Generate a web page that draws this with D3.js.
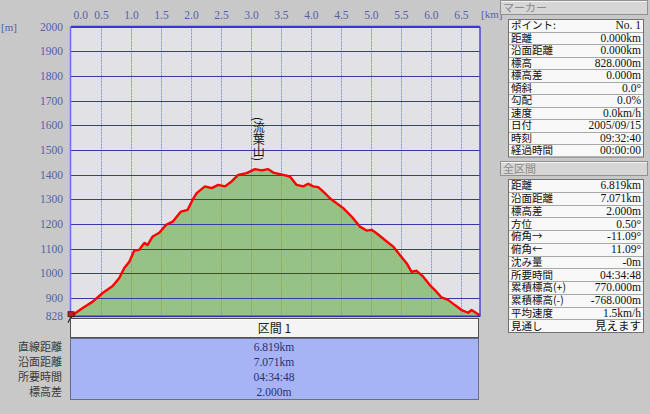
<!DOCTYPE html>
<html><head><meta charset="utf-8">
<script src="https://cdn.jsdelivr.net/npm/d3@7"></script>
<style>
html,body{margin:0;padding:0;background:#c8c8c8;}
svg{display:block;}
</style></head>
<body>
<svg id="c" width="650" height="414"></svg>
<script>
// ---- data ----
const distKm = [0.000,0.028,0.195,0.362,0.528,0.695,0.805,0.888,0.972,1.055,1.138,1.222,1.278,1.362,1.472,1.583,1.695,1.833,1.945,2.028,2.095,2.233,2.345,2.455,2.567,2.678,2.788,2.928,3.067,3.178,3.288,3.372,3.538,3.650,3.762,3.872,3.955,4.038,4.122,4.233,4.317,4.428,4.538,4.678,4.817,4.928,5.012,5.095,5.233,5.372,5.483,5.595,5.678,5.762,5.872,5.983,6.067,6.178,6.288,6.400,6.512,6.622,6.678,6.762,6.819];
const elevM  = [828,831,859,885,920,948,981,1021,1047,1092,1095,1123,1115,1149,1164,1196,1209,1250,1257,1298,1325,1352,1345,1358,1352,1372,1399,1406,1422,1417,1422,1408,1399,1392,1358,1352,1363,1352,1349,1325,1304,1284,1264,1230,1189,1173,1176,1162,1135,1108,1074,1041,1006,1010,986,952,932,902,892,871,851,840,851,838,830];
const xTicks = [0.0,0.5,1.0,1.5,2.0,2.5,3.0,3.5,4.0,4.5,5.0,5.5,6.0,6.5];
const yTicks = [900,1000,1100,1200,1300,1400,1500,1600,1700,1800,1900,2000];
const yMin = 828, yMax = 2000, xMax = 6.819;
const peakName = "(流葉山)";
const peakKm = 3.13;

const markerTitle = "マーカー";
const markerLabels = ["ポイント:","距離","沿面距離","標高","標高差","傾斜","勾配","速度","日付","時刻","経過時間"];
const markerValues = ["No. 1","0.000km","0.000km","828.000m","0.000m","0.0°","0.0%","0.0km/h","2005/09/15","09:32:40","00:00:00"];
const allTitle = "全区間";
const sectionLabels = ["距離","沿面距離","標高差","方位","俯角→","俯角←","沈み量","所要時間","累積標高(+)","累積標高(-)","平均速度","見通し"];
const sectionValues = ["6.819km","7.071km","2.000m","0.50°","-11.09°","11.09°","-0m","04:34:48","770.000m","-768.000m","1.5km/h","見えます"];
const bottomLabels = ["直線距離","沿面距離","所要時間","標高差"];
const bottomValues = ["6.819km","7.071km","04:34:48","2.000m"];
const sectionTitle = "区間 1";

// ---- layout ----
const svg = d3.select("#c");
const L = 71, R = 480, T = 26.5, B = 315.7;
const x = d3.scaleLinear().domain([0, xMax]).range([L, R]);
const y = d3.scaleLinear().domain([yMin, yMax]).range([B, T]);
const numFont = "'Liberation Serif','Noto Sans CJK JP',serif";
const jpFont = "'Noto Sans CJK JP',sans-serif";

// plot background
svg.append("rect").attr("x", L).attr("y", T).attr("width", R - L).attr("height", B - T).attr("fill", "#e2e2e6");

// area
const pts = distKm.map((d, i) => [d, elevM[i]]);
svg.append("path").datum(pts)
  .attr("d", d3.area().x(d => x(d[0])).y0(y(yMin)).y1(d => y(d[1])))
  .attr("fill", "#97c285");

// vertical gridlines
svg.append("g").selectAll("line").data(xTicks.filter(d => d > 0)).join("line")
  .attr("x1", d => Math.round(x(d)) + 0.5).attr("x2", d => Math.round(x(d)) + 0.5)
  .attr("y1", T).attr("y2", B)
  .attr("stroke", "#8a90d0").attr("stroke-width", 1).attr("stroke-dasharray", "2,1");

// horizontal gridlines
svg.append("g").selectAll("line").data(yTicks).join("line")
  .attr("x1", L).attr("x2", R)
  .attr("y1", d => Math.round(y(d)) + 0.5).attr("y2", d => Math.round(y(d)) + 0.5)
  .attr("stroke", "#3a3aa6").attr("stroke-width", 1);

// profile line
svg.append("path").datum(pts)
  .attr("d", d3.line().x(d => x(d[0])).y(d => y(d[1])))
  .attr("fill", "none").attr("stroke", "#ff0000").attr("stroke-width", 2.4)
  .attr("stroke-linejoin", "round");

// frame
svg.append("line").attr("x1", L - 0.5).attr("x2", L - 0.5).attr("y1", T).attr("y2", B + 1)
  .attr("stroke", "#6a6aff").attr("stroke-width", 1.5);
svg.append("line").attr("x1", L).attr("x2", R).attr("y1", T).attr("y2", T)
  .attr("stroke", "#3a3ad0").attr("stroke-width", 1.5);
svg.append("line").attr("x1", R).attr("x2", R).attr("y1", T).attr("y2", B + 1)
  .attr("stroke", "#4a4ad0").attr("stroke-width", 1.5);
svg.append("line").attr("x1", L).attr("x2", R).attr("y1", B + 0.5).attr("y2", B + 0.5)
  .attr("stroke", "#30309a").attr("stroke-width", 1.5);

// top axis labels
const topAxis = d3.axisTop(x).tickValues(xTicks).tickSize(0).tickPadding(0).tickFormat(d3.format(".1f"));
const gTop = svg.append("g").attr("transform", `translate(0,${T - 8})`).call(topAxis);
gTop.select(".domain").remove();
gTop.selectAll("text").attr("fill", "#5460a8").attr("font-family", numFont).attr("font-size", 11.5);
gTop.selectAll(".tick").filter(d => d === 0).select("text").attr("text-anchor", "start").attr("dx", 2);
svg.append("text").attr("x", 481).attr("y", 18).text("[km]")
  .attr("fill", "#5460a8").attr("font-family", numFont).attr("font-size", 11);

// left axis labels
const leftAxis = d3.axisLeft(y).tickValues(yTicks.concat([yMin])).tickSize(0).tickPadding(0).tickFormat(d3.format("d"));
const gLeft = svg.append("g").attr("transform", `translate(${L - 8},0)`).call(leftAxis);
gLeft.select(".domain").remove();
gLeft.selectAll("text").attr("fill", "#5460a8").attr("font-family", numFont).attr("font-size", 11.5);
svg.append("text").attr("x", 1).attr("y", 31).text("[m]")
  .attr("fill", "#5460a8").attr("font-family", numFont).attr("font-size", 11);

// start marker
svg.append("rect").attr("x", x(0) - 3).attr("y", y(yMin) - 4).attr("width", 6).attr("height", 5).attr("fill", "#c02020").attr("stroke", "#401010").attr("stroke-width", 0.8);
svg.append("path").attr("d", `M${x(0)-3},${y(yMin)+7} L${x(0)},${y(yMin)+1} L${x(0)+3},${y(yMin)+7}`)
  .attr("fill", "none").attr("stroke", "#303030").attr("stroke-width", 1.2);

// peak label (vertical)
svg.append("text").attr("x", x(peakKm)).attr("y", 117).text(peakName)
  .attr("font-family", jpFont).attr("font-size", 12).attr("fill", "#111")
  .style("writing-mode", "vertical-rl").attr("text-anchor", "start");

// ---- bottom section table ----
const tb = svg.append("g");
tb.append("rect").attr("x", 70.5).attr("y", 318.5).attr("width", 408).attr("height", 19)
  .attr("fill", "#f4f4f4").attr("stroke", "#505050");
tb.append("line").attr("x1", 71).attr("x2", 478).attr("y1", 319.5).attr("y2", 319.5).attr("stroke", "#fff");
tb.append("text").attr("x", (70 + 479) / 2).attr("y", 333).text(sectionTitle)
  .attr("text-anchor", "middle").attr("font-family", jpFont).attr("font-size", 12).attr("fill", "#202020");
tb.append("rect").attr("x", 70.5).attr("y", 338.5).attr("width", 408).attr("height", 61)
  .attr("fill", "#a6b4f6").attr("stroke", "#6a6a8a");
const by = d3.scalePoint().domain(d3.range(bottomLabels.length)).range([347, 392]);
tb.selectAll("text.bl").data(bottomLabels).join("text").attr("class", "bl")
  .attr("x", 62).attr("y", (d, i) => by(i) + 4).text(d => d)
  .attr("text-anchor", "end").attr("font-family", jpFont).attr("font-size", 11).attr("fill", "#3a3a3a");
tb.selectAll("text.bv").data(bottomValues).join("text").attr("class", "bv")
  .attr("x", 274).attr("y", (d, i) => by(i) + 4).text(d => d)
  .attr("text-anchor", "middle").attr("font-family", numFont).attr("font-size", 11.5).attr("fill", "#2a3070");

// ---- right panel ----
function header(title, top) {
  const g = svg.append("g");
  g.append("rect").attr("x", 500.5).attr("y", top + 0.5).attr("width", 147).attr("height", 14)
    .attr("fill", "#d6d6d6").attr("stroke", "#909090");
  g.append("line").attr("x1", 501).attr("x2", 647).attr("y1", top + 1.5).attr("y2", top + 1.5).attr("stroke", "#f4f4f4");
  g.append("text").attr("x", 503).attr("y", top + 12).text(title)
    .attr("font-family", jpFont).attr("font-size", 11).attr("fill", "#8a8a8a");
}
function table(labels, values, top, rowH) {
  const g = svg.append("g");
  const h = labels.length * rowH;
  g.append("rect").attr("x", 508.5).attr("y", top + 0.5).attr("width", 135).attr("height", h)
    .attr("fill", "#f8f8f8").attr("stroke", "#707070");
  const ry = i => top + i * rowH;
  g.selectAll("line.sep").data(d3.range(1, labels.length)).join("line").attr("class", "sep")
    .attr("x1", 509).attr("x2", 643).attr("y1", i => Math.round(ry(i)) + 0.5).attr("y2", i => Math.round(ry(i)) + 0.5)
    .attr("stroke", "#a8a8a8");
  g.selectAll("text.lb").data(labels).join("text").attr("class", "lb")
    .attr("x", 511).attr("y", (d, i) => ry(i) + rowH - 2.5).text(d => d)
    .attr("font-family", jpFont).attr("font-size", 10.5).attr("fill", "#101010");
  g.selectAll("text.vl").data(values).join("text").attr("class", "vl")
    .attr("x", 641).attr("y", (d, i) => ry(i) + rowH - 2.5).text(d => d)
    .attr("text-anchor", "end").attr("font-family", numFont).attr("font-size", 11.5).attr("fill", "#101010");
}
header(markerTitle, 0);
table(markerLabels, markerValues, 19, 12.5);
header(allTitle, 161);
table(sectionLabels, sectionValues, 179, 12.75);
</script>
</body></html>
